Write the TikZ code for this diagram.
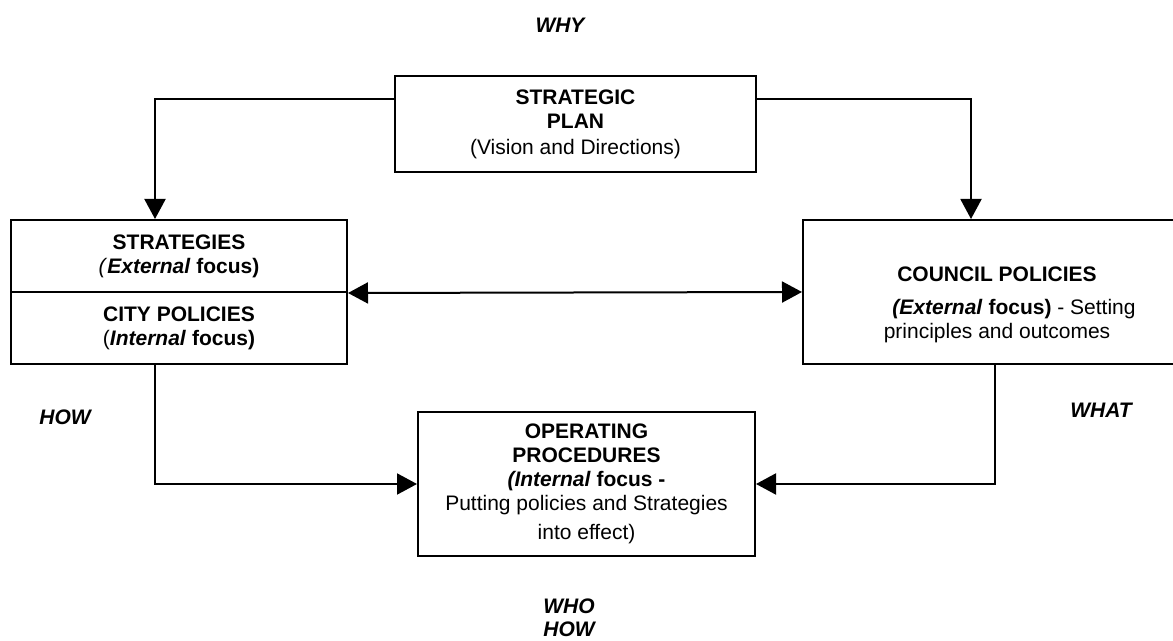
\documentclass[tikz,border=0pt]{standalone}
\usepackage{fontspec}
\setmainfont{Liberation Sans}
\usetikzlibrary{arrows.meta}

\begin{document}
\begin{tikzpicture}[x=0.5pt,y=-0.5pt,line width=1pt,
        font=\fontsize{10.5}{12}\selectfont,
        box/.style={draw, rectangle, align=center, inner sep=0pt},
        lbl/.style={font=\fontsize{10.5}{11.5}\selectfont\bfseries\itshape,
                        align=center, inner sep=0pt},
        arr/.style={-{Triangle[length=10pt,width=10.5pt]}},
        dbl/.style={{Triangle[length=10pt,width=10.5pt]}-{Triangle[length=10pt,width=10.5pt]}}]
    \useasboundingbox (0,0) rectangle (1173,641);

    % boxes
    \node[box, minimum width=180.5pt, minimum height=48pt] (plan) at (575.5,124)
        {\textbf{STRATEGIC}\\\textbf{PLAN}\\[1pt](Vision and Directions)};
    \node[box, minimum width=168pt, minimum height=36pt] (strat) at (179,256)
        {\textbf{STRATEGIES}\\\textit{(}\textbf{\textit{External} focus)}};
    \node[box, minimum width=168pt, minimum height=36pt] (city) at (179,328)
        {\textbf{CITY POLICIES}\\(\textbf{\textit{Internal} focus)}};
    \node[box, minimum width=197pt, minimum height=72pt] (council) at (1000,292) {};
    \node[align=center, inner sep=0pt] (counciltext) at (997,305)
        {\textbf{COUNCIL POLICIES}\\[4.5pt]\hspace*{17pt}\textbf{\textit{(External} focus)} - Setting\\principles and outcomes};
    \node[box, minimum width=168.5pt, minimum height=72pt] (ops) at (586.5,484)
        {\textbf{OPERATING}\\\textbf{PROCEDURES}\\\textbf{\textit{(Internal} focus -}\\Putting policies and Strategies\\[2.5pt]into effect)};

    % labels
    \node[lbl] (why) at (560,25.5) {WHY};
    \node[lbl] (how) at (65,417.5) {HOW};
    \node[lbl] (what) at (1101,410.5) {WHAT};
    \node[lbl] (whohow) at (569,618) {WHO\\HOW};

    % connectors
    \draw[arr] ([yshift=12.5pt]plan.west) -| ([xshift=-12pt]strat.north);
    \draw[arr] ([yshift=12.5pt]plan.east) -| ([xshift=-14.5pt]council.north);
    \draw[dbl] (strat.south east) -- (council.west);
    \draw[arr] ([xshift=-12pt]city.south) |- (ops.west);
    \draw[arr] ([xshift=-2.5pt]council.south) |- (ops.east);
\end{tikzpicture}
\end{document}
